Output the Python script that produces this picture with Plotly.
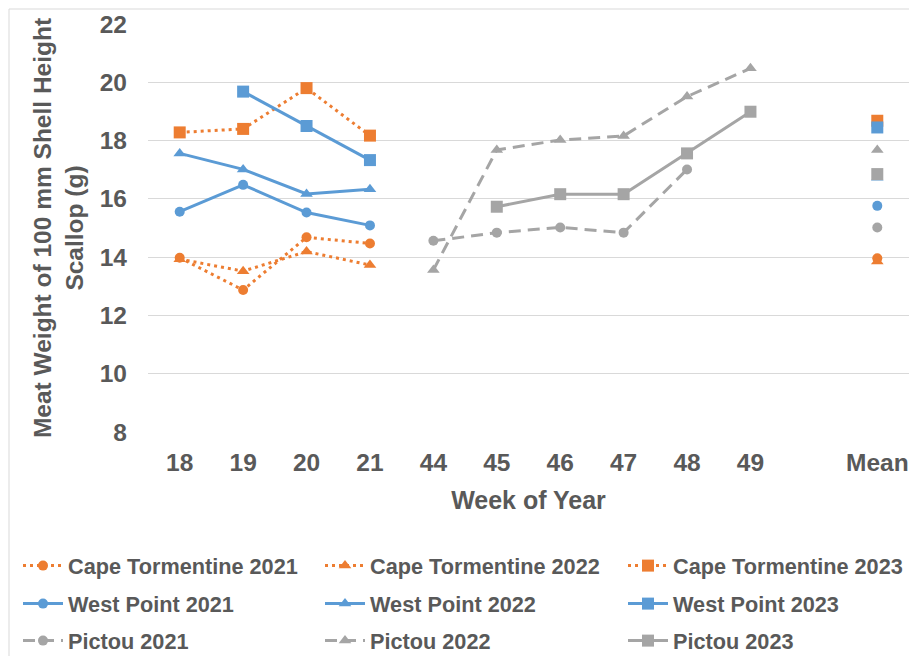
import plotly.graph_objects as go

weeks = ["18", "19", "20", "21", "44", "45", "46", "47", "48", "49"]
categories = weeks + [" ", "Mean"]

series_names = [
    "Cape Tormentine 2021", "Cape Tormentine 2022", "Cape Tormentine 2023",
    "West Point 2021", "West Point 2022", "West Point 2023",
    "Pictou 2021", "Pictou 2022", "Pictou 2023",
]

ct2021 = [13.98, 12.87, 14.68, 14.47, None, None, None, None, None, None]
ct2022 = [13.93, 13.52, 14.19, 13.73, None, None, None, None, None, None]
ct2023 = [18.28, 18.40, 19.80, 18.17, None, None, None, None, None, None]
wp2021 = [15.56, 16.48, 15.53, 15.09, None, None, None, None, None, None]
wp2022 = [17.56, 17.01, 16.17, 16.33, None, None, None, None, None, None]
wp2023 = [None, 19.68, 18.50, 17.33, None, None, None, None, None, None]
p2021 = [None, None, None, None, 14.56, 14.84, 15.02, 14.84, 17.01, None]
p2022 = [None, None, None, None, 13.56, 17.68, 18.02, 18.16, 19.51, 20.48]
p2023 = [None, None, None, None, None, 15.73, 16.16, 16.16, 17.56, 18.99]

means = [13.96, 13.85, 18.68, 15.76, 16.72, 18.45, 15.02, 17.68, 16.85]

yticks = [8, 10, 12, 14, 16, 18, 20, 22]

ORANGE = "#ED7D31"
BLUE = "#5B9BD5"
GRAY = "#A5A5A5"
TXT = "#595959"
FONT = "Liberation Sans, Arial, sans-serif"

DOT = "3px,4px"
DASH = "12px,7px"

all_series = [ct2021, ct2022, ct2023, wp2021, wp2022, wp2023, p2021, p2022, p2023]
colors = [ORANGE] * 3 + [BLUE] * 3 + [GRAY] * 3
dashes = [DOT] * 3 + ["solid"] * 3 + [DASH, DASH, "solid"]
symbols = ["circle", "triangle-up", "square"] * 3
msizes = [10, 11, 12] * 3

W, H = 909, 656
PLOT_L, PLOT_R, PLOT_T, PLOT_B = 148, 909, 24, 432   # page pixels
L, R, T, B = PLOT_L, W - PLOT_R, PLOT_T, H - PLOT_B
pw, ph = PLOT_R - PLOT_L, PLOT_B - PLOT_T

def px_x(x):
    return (x - PLOT_L) / pw

def px_y(y):
    return (PLOT_B - y) / ph

col_x = [18, 320, 623]
row_y = [566, 604, 641]

legend_ids = ["legend"] + ["legend%d" % i for i in range(2, 10)]

fig = go.Figure()
for i, (name, vals, m, c, d, s, ms) in enumerate(zip(series_names, all_series, means, colors,
                                                      dashes, symbols, msizes)):
    fig.add_trace(go.Scatter(
        x=categories,
        y=vals + [None, m],
        name=name,
        mode="lines+markers",
        line=dict(color=c, width=3, dash=d),
        marker=dict(color=c, symbol=s, size=ms),
        connectgaps=False,
        legend=legend_ids[i],
    ))

legend_layout = {}
for i, lid in enumerate(legend_ids):
    r, cidx = divmod(i, 3)
    legend_layout[lid] = dict(
        orientation="h",
        font=dict(family=FONT, size=21.7, color=TXT, weight="bold"),
        itemwidth=40,
        x=px_x(col_x[cidx]), y=px_y(row_y[r]),
        xanchor="left", yanchor="middle",
        bgcolor="rgba(0,0,0,0)",
        itemclick=False,
    )

fig.update_layout(
    width=W, height=H,
    margin=dict(l=L, r=R, t=T, b=B, autoexpand=False),
    paper_bgcolor="white",
    plot_bgcolor="white",
    font=dict(family=FONT, color=TXT),
    showlegend=True,
    xaxis=dict(
        type="category",
        categoryorder="array",
        categoryarray=categories,
        range=[-0.5, len(categories) - 0.5],
        tickfont=dict(family=FONT, size=24.5, color=TXT, weight="bold"),
        showgrid=False,
        showline=False,
        zeroline=False,
        ticks="",
        ticklabelstandoff=13,
        automargin=False,
        title=dict(text="Week of Year", font=dict(family=FONT, size=25, color=TXT, weight="bold"),
                   standoff=16),
    ),
    yaxis=dict(
        range=[8, 22],
        tickvals=yticks,
        tickfont=dict(family=FONT, size=24.5, color=TXT, weight="bold"),
        showgrid=True,
        gridcolor="#D9D9D9",
        gridwidth=1,
        zeroline=False,
        showline=False,
        ticks="",
        ticklabelstandoff=20,
        automargin=False,
        title=dict(text="Meat Weight of 100 mm Shell Height<br>Scallop (g)",
                   font=dict(family=FONT, size=24.5, color=TXT, weight="bold"),
                   standoff=9),
    ),
    shapes=[dict(type="rect", xref="paper", yref="paper",
                 x0=px_x(9), x1=px_x(915), y0=px_y(662), y1=px_y(9),
                 line=dict(color="#D9D9D9", width=1), layer="below")],
    **legend_layout,
)

fig.write_html(
    "out.html",
    config={"displayModeBar": False},
    post_script="document.body.style.margin='0';document.body.style.overflow='hidden';",
)
